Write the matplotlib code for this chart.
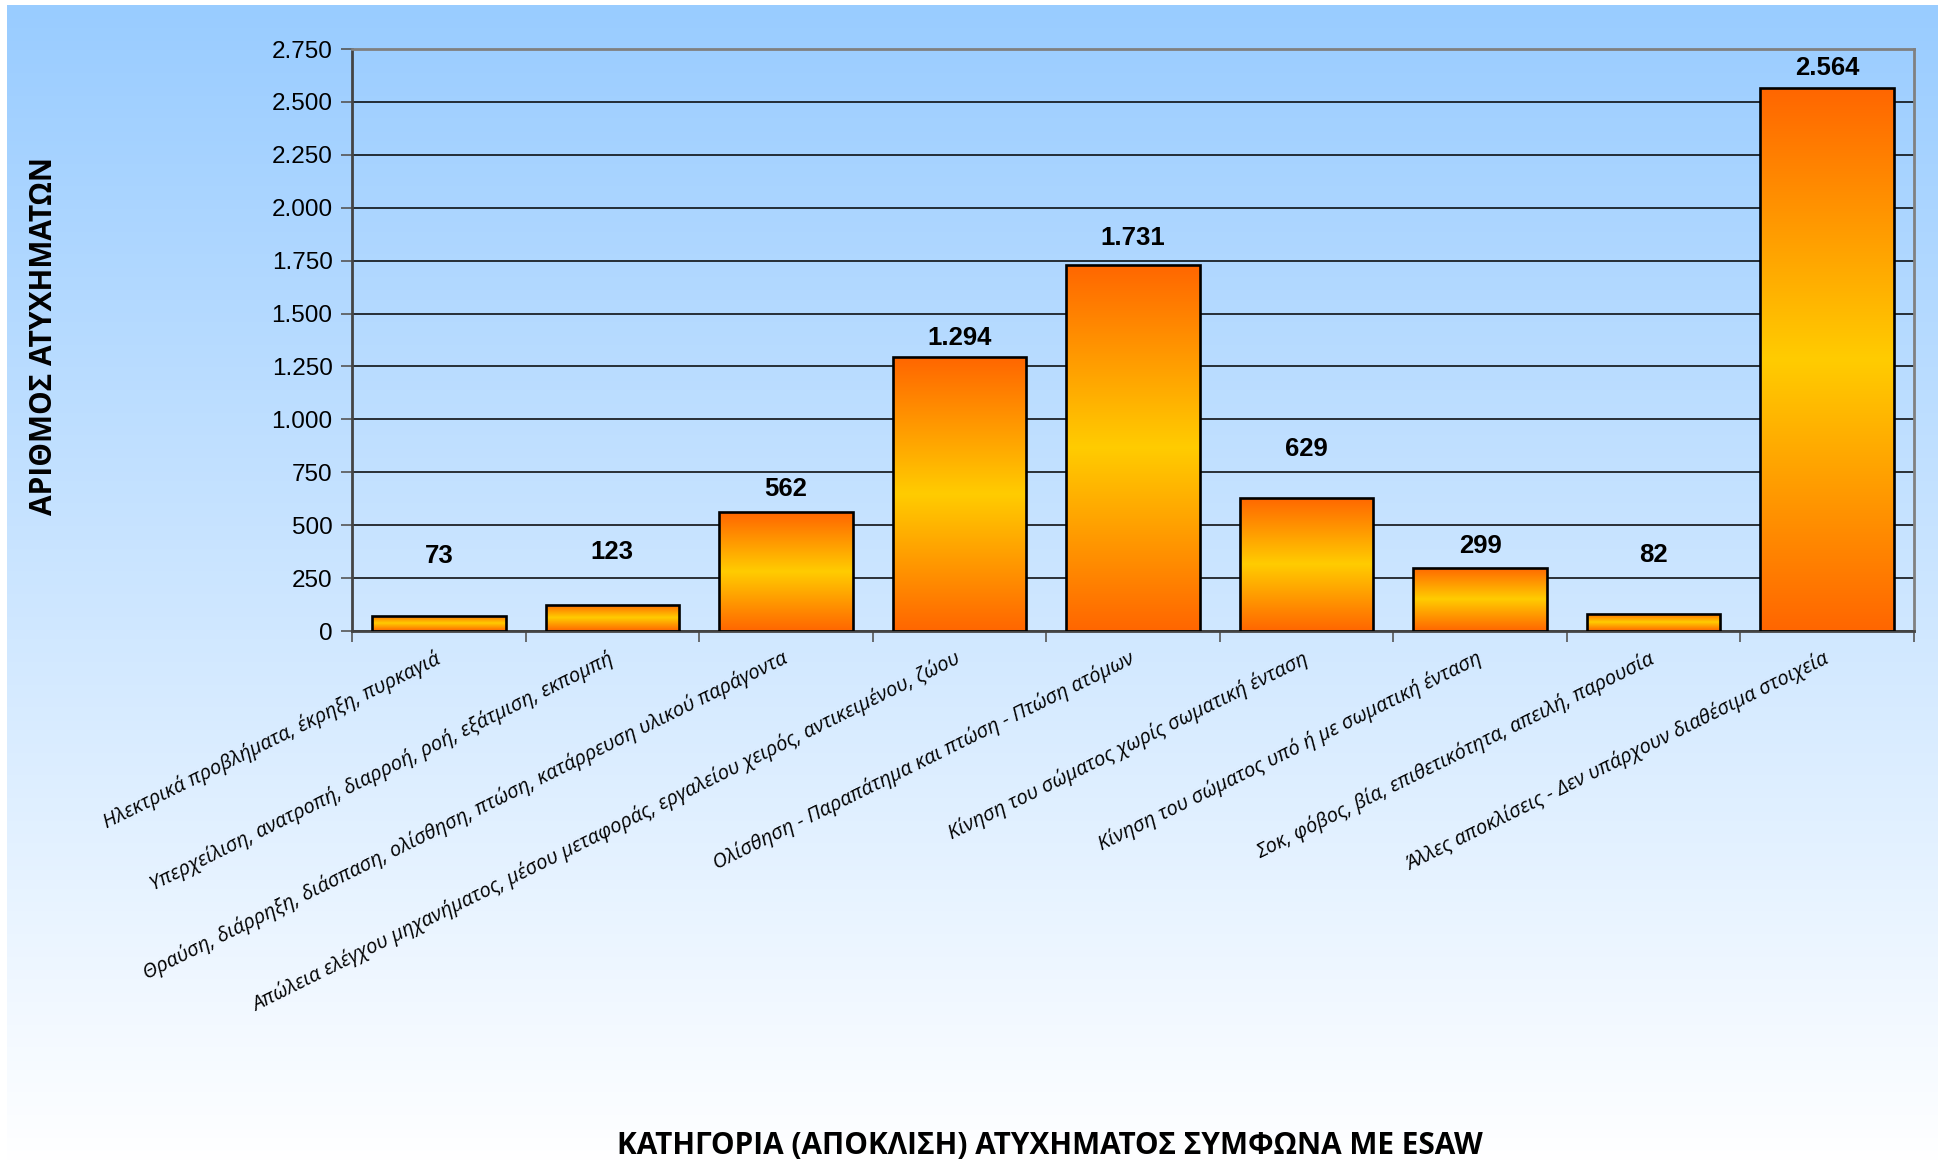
import matplotlib
matplotlib.use('Agg')
import matplotlib.pyplot as plt
import numpy as np
from matplotlib.colors import LinearSegmentedColormap

categories = [
    'Ηλεκτρικά προβλήματα, έκρηξη, πυρκαγιά',
    'Υπερχείλιση, ανατροπή, διαρροή, ροή, εξάτμιση, εκπομπή',
    'Θραύση, διάρρηξη, διάσπαση, ολίσθηση, πτώση, κατάρρευση υλικού παράγοντα',
    'Απώλεια ελέγχου μηχανήματος, μέσου μεταφοράς, εργαλείου χειρός, αντικειμένου, ζώου',
    'Ολίσθηση - Παραπάτημα και πτώση - Πτώση ατόμων',
    'Κίνηση του σώματος χωρίς σωματική ένταση',
    'Κίνηση του σώματος υπό ή με σωματική ένταση',
    'Σοκ, φόβος, βία, επιθετικότητα, απειλή, παρουσία',
    'Άλλες αποκλίσεις - Δεν υπάρχουν διαθέσιμα στοιχεία',
]
accidents = [73, 123, 562, 1294, 1731, 629, 299, 82, 2564]
y_ticks = list(range(0, 2751, 250))

x_title = 'ΚΑΤΗΓΟΡΙΑ (ΑΠΟΚΛΙΣΗ) ΑΤΥΧΗΜΑΤΟΣ ΣΥΜΦΩΝΑ ΜΕ ESAW'
y_title = 'ΑΡΙΘΜΟΣ ΑΤΥΧΗΜΑΤΩΝ'

# label lift above each bar, in pixels (labels were moved by hand in the original)
label_lift = [60, 53, 23, 19, 27, 49, 22, 59, 20]


def dotted(v):
    return f'{v:,}'.replace(',', '.')


W, H = 1938, 1165
fig = plt.figure(figsize=(W / 100, H / 100), dpi=100)
fig.patch.set_facecolor('white')

# background gradient (light blue -> white)
bg = fig.add_axes([7 / W, 0, 1 - 7 / W, (H - 5) / H], zorder=0)
bg_cmap = LinearSegmentedColormap.from_list('bg', ['#99CCFF', '#FFFFFF'])
bg.imshow(np.linspace(0, 1, 256).reshape(-1, 1), aspect='auto', cmap=bg_cmap,
          extent=[0, 1, 0, 1], origin='upper')
bg.axis('off')

ax = fig.add_axes([352 / W, (H - 631) / H, 1562 / W, 582 / H], zorder=1)
ax.patch.set_alpha(0)

x = np.arange(len(categories))
bars = ax.bar(x, accidents, width=0.77, color='none', edgecolor='black',
              linewidth=1.9, zorder=3)

bar_cmap = LinearSegmentedColormap.from_list('bar', ['#FF6600', '#FFCC00', '#FF6600'])
grad = np.linspace(0, 1, 256).reshape(-1, 1)
for b in bars:
    x0, w, h = b.get_x(), b.get_width(), b.get_height()
    im = ax.imshow(grad, aspect='auto', cmap=bar_cmap, origin='upper',
                   extent=[x0, x0 + w, 0, h], zorder=2)
    im.set_clip_path(b)

for i, (b, v) in enumerate(zip(bars, accidents)):
    ax.annotate(dotted(v), (b.get_x() + b.get_width() / 2, v),
                xytext=(0, label_lift[i]), textcoords='offset pixels',
                ha='center', va='center', fontsize=18.5, fontweight='bold',
                family='Liberation Sans', zorder=5)

ax.set_xlim(-0.5, len(categories) - 0.5)
ax.set_ylim(0, 2750)
ax.set_yticks(y_ticks)
ax.set_yticklabels([dotted(t) for t in y_ticks], fontsize=17.5, family='Liberation Sans')
ax.yaxis.grid(True, color='black', linewidth=1.1, zorder=0)
ax.set_axisbelow(True)

ax.set_xticks(x)
ax.set_xticklabels(categories, rotation=26.3, ha='right', va='center',
                   rotation_mode='anchor', fontsize=14.5, style='italic',
                   family='Open Sans')
ax.set_xticks(np.arange(-0.5, len(categories)), minor=True)
ax.tick_params(axis='x', which='major', length=0, pad=19)
ax.tick_params(axis='x', which='minor', length=8, width=1.2, color='#555555')
ax.tick_params(axis='y', length=8, width=1.2, color='#555555', pad=6)

for s in ['top', 'right']:
    ax.spines[s].set_color('#808080')
    ax.spines[s].set_linewidth(2)
for s in ['left', 'bottom']:
    ax.spines[s].set_color('#444444')
    ax.spines[s].set_linewidth(2)

fig.text(44 / W, 1 - 336 / H, y_title, rotation=90, ha='center', va='center',
         fontsize=21.5, fontweight='bold', family='Open Sans')
fig.text(1050 / W, 1 - 1146 / H, x_title, ha='center', va='center',
         fontsize=21.4, fontweight='bold', family='Open Sans')

fig.savefig('out.png', dpi=100)
